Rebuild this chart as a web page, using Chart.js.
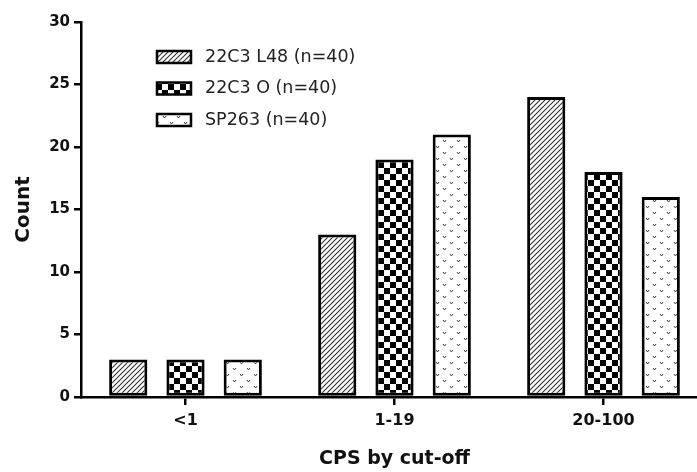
<!DOCTYPE html>
<html>
<head>
<meta charset="utf-8">
<script src="https://cdn.jsdelivr.net/npm/chart.js@4.4.1/dist/chart.umd.min.js"></script>
<style>
  html, body { margin:0; padding:0; background:#fff; overflow:hidden; }
  #chart { display:block; }
</style>
</head>
<body>
<canvas id="chart" width="708" height="472"></canvas>
<script>
// ---------- DATA ----------
const categories = ['<1', '1-19', '20-100'];
const seriesNames = ['22C3 L48 (n=40)', '22C3 O (n=40)', 'SP263 (n=40)'];
const l48Counts  = [3, 13, 24];
const oCounts    = [3, 19, 18];
const sp263Counts = [3, 21, 16];
const yTicks = [0, 5, 10, 15, 20, 25, 30];

const FONT = '"DejaVu Sans", Arial, sans-serif';

// ---------- patterns ----------
function tile (w, h, draw) {
  const c = document.createElement('canvas');
  c.width = w; c.height = h;
  const g = c.getContext('2d');
  g.fillStyle = '#fff'; g.fillRect(0, 0, w, h);
  draw(g);
  return c;
}
const ctx = document.getElementById('chart').getContext('2d');

const hatch = ctx.createPattern(tile(5, 5, g => {
  g.strokeStyle = '#333'; g.lineWidth = 1.1;
  g.beginPath();
  g.moveTo(-1, 6); g.lineTo(6, -1);
  g.moveTo(-1, 1); g.lineTo(1, -1);
  g.moveTo(4, 6); g.lineTo(6, 4);
  g.stroke();
}), 'repeat');

const checker = ctx.createPattern(tile(12, 12, g => {
  g.fillStyle = '#000';
  g.fillRect(0, 0, 6, 6);
  g.fillRect(6, 6, 6, 6);
}), 'repeat');

const vdots = ctx.createPattern(tile(14, 12, g => {
  g.strokeStyle = '#444'; g.lineWidth = 1;
  const v = (x, y) => { g.moveTo(x, y); g.lineTo(x + 1.5, y + 2); g.lineTo(x + 3, y); };
  g.beginPath(); v(2, 2); v(9, 8); g.stroke();
}), 'repeat');

const fills = [hatch, checker, vdots];

// ---------- legend drawn inside plot ----------
const innerLegend = {
  id: 'innerLegend',
  afterDraw (chart) {
    const c = chart.ctx;
    c.save();
    chart.data.datasets.forEach((ds, i) => {
      const y = 57 + i * 31.5;
      c.fillStyle = ds.backgroundColor;
      c.fillRect(157, y - 6, 34, 12);
      c.lineWidth = 2.5; c.strokeStyle = '#000';
      c.strokeRect(157, y - 6, 34, 12);
      c.fillStyle = '#222';
      c.font = '17.5px ' + FONT;
      c.textBaseline = 'middle';
      c.fillText(ds.label, 205, y);
    });
    c.restore();
  }
};

const commonBar = { borderColor:'#000', borderWidth:3, borderSkipped:false };

new Chart(ctx, {
  type: 'bar',
  data: {
    labels: categories,
    datasets: [
      { label: seriesNames[0], data: l48Counts,   backgroundColor: fills[0], ...commonBar },
      { label: seriesNames[1], data: oCounts,     backgroundColor: fills[1], ...commonBar },
      { label: seriesNames[2], data: sp263Counts, backgroundColor: fills[2], ...commonBar }
    ]
  },
  options: {
    responsive: false,
    animation: false,
    devicePixelRatio: 1,
    layout: { padding: { top: 22, left: 0, right: 0, bottom: 0 } },
    datasets: { bar: { categoryPercentage: 0.822, barPercentage: 0.667 } },
    plugins: { legend: { display: false }, tooltip: { enabled: false } },
    scales: {
      x: {
        grid: { drawOnChartArea: false, offset: false, color: '#000', lineWidth: 2.5, tickLength: 8 },
        border: { color: '#000', width: 2.5 },
        ticks: { color: '#111', padding: 6, font: { family: FONT, size: 16, weight: 'bold' } },
        title: { display: true, text: 'CPS by cut-off', color: '#111', padding: { top: 0, bottom: 2 },
                 font: { family: FONT, size: 19, weight: 'bold' } },
        afterFit: s => { s.height = 75; }
      },
      y: {
        min: 0, max: 30,
        afterBuildTicks: s => { s.ticks = yTicks.map(v => ({ value: v })); },
        grid: { drawOnChartArea: false, color: '#000', lineWidth: 2.5, tickLength: 7 },
        border: { color: '#000', width: 2.5 },
        ticks: { color: '#111', padding: 4, font: { family: FONT, size: 15, weight: 'bold' } },
        title: { display: true, text: 'Count', color: '#111', padding: { top: 12, bottom: 0 },
                 font: { family: FONT, size: 20, weight: 'bold' } },
        afterFit: s => { s.width = 81; }
      }
    }
  },
  plugins: [innerLegend]
});
</script>
</body>
</html>
